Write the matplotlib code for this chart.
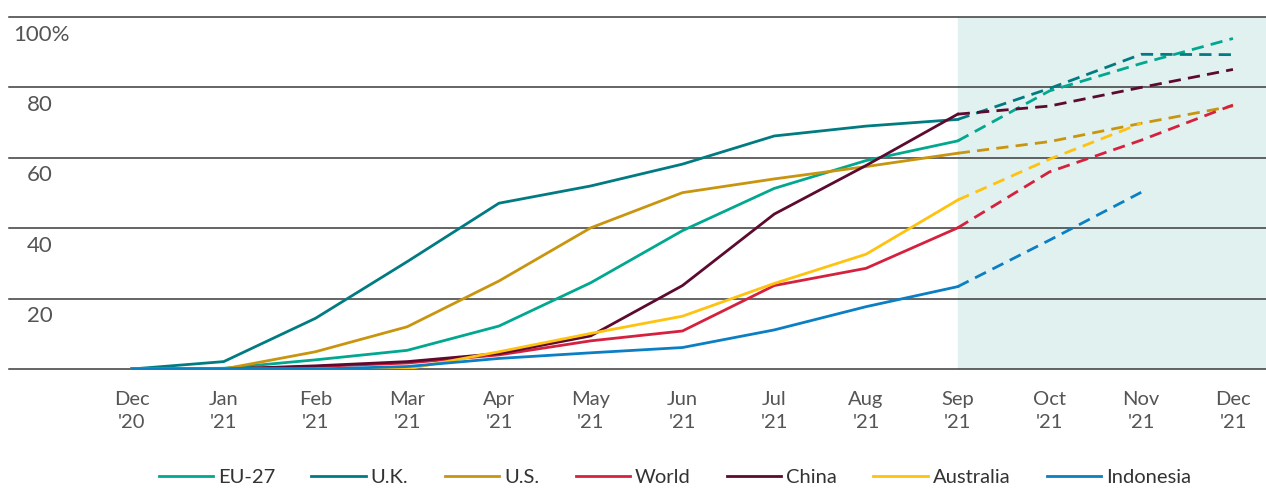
import numpy as np
import matplotlib.pyplot as plt

plt.rcParams['font.family'] = ['Lato', 'DejaVu Sans']

months = ["Dec\n'20", "Jan\n'21", "Feb\n'21", "Mar\n'21", "Apr\n'21", "May\n'21", "Jun\n'21",
          "Jul\n'21", "Aug\n'21", "Sep\n'21", "Oct\n'21", "Nov\n'21", "Dec\n'21"]
nan = np.nan

# share of population vaccinated (%), Oct-Dec '21 are projections
eu27 = [0, 0.2, 2.6, 5.3, 12.2, 24.5, 39.3, 51.3, 59.2, 64.8, 79.0, 86.8, 93.9]
uk = [0, 2.1, 14.4, 30.5, 47.1, 52.0, 58.2, 66.2, 69.0, 70.9, 79.7, 89.4, 89.3]
us = [0, 0, 4.9, 12.0, 25.0, 40.1, 50.1, 54.0, 57.5, 61.3, 64.6, 69.8, 74.7]
world = [0, 0, 0.7, 1.7, 4.0, 8.0, 10.8, 23.7, 28.6, 40.1, 56.0, 65.0, 75.0]
china = [0, 0, 0.9, 2.1, 4.4, 9.4, 23.7, 44.0, 57.8, 72.4, 74.7, 80.0, 85.1]
australia = [0, 0, 0, 0, 4.9, 10.1, 15.0, 24.3, 32.6, 48.0, 59.6, 69.8, nan]
indonesia = [0, 0, 0, 0.7, 3.0, 4.6, 6.1, 11.1, 17.7, 23.4, 36.6, 50.2, nan]

series = [("EU-27", eu27, "#00a88f"),
          ("U.K.", uk, "#007b82"),
          ("U.S.", us, "#c9950f"),
          ("World", world, "#d5213d"),
          ("China", china, "#5c0a30"),
          ("Australia", australia, "#ffc20e"),
          ("Indonesia", indonesia, "#0a7fc4")]

yticks = [20, 40, 60, 80, 100]
split = 9  # projections start at Sep '21

fig = plt.figure(figsize=(12.66, 4.88), dpi=100)
ax = fig.add_axes([9 / 1266, 119 / 488, 1 - 9 / 1266, 352 / 488])

x = np.arange(len(months))
ax.axvspan(split, 12.36, color="#e1f1ef", zorder=0)

for v in [0] + yticks:
    ax.axhline(v, color="#3a3a3a", lw=1.1, zorder=1, clip_on=False)

for name, vals, col in series:
    vals = np.array(vals, dtype=float)
    ax.plot(x[:split + 1], vals[:split + 1], color=col, lw=2.0, label=name, zorder=3)
    ax.plot(x[split:], vals[split:], color=col, lw=2.0, dashes=(4.4, 2.6), zorder=3)

ax.set_xlim(-1.34, 12.36)
ax.set_ylim(0, 100)
for s in ax.spines.values():
    s.set_visible(False)
ax.set_yticks([])
ax.set_xticks(x)
ax.set_xticklabels(months, fontsize=14.5, color="#555555", linespacing=1.4)
ax.tick_params(axis="x", length=0, pad=16)

for v in yticks:
    lab = "100%" if v == 100 else str(v)
    if v == 100:
        ax.text(13 / 1266 - 9 / 1266, v - 5, lab, transform=ax.get_yaxis_transform(),
                ha="left", va="center", fontsize=16, color="#555555")
    else:
        ax.text(53 / 1266 - 9 / 1266, v - 5, lab, transform=ax.get_yaxis_transform(),
                ha="right", va="center", fontsize=16, color="#555555")

handles, labels = ax.get_legend_handles_labels()
fig.legend(handles, labels, loc="center", bbox_to_anchor=(0.533, 0.022), ncol=7,
           frameon=False, fontsize=14.5, handlelength=2.7, handletextpad=0.25,
           columnspacing=1.8, labelcolor="#333333", borderpad=0.1)

fig.savefig("out.png", dpi=100)
